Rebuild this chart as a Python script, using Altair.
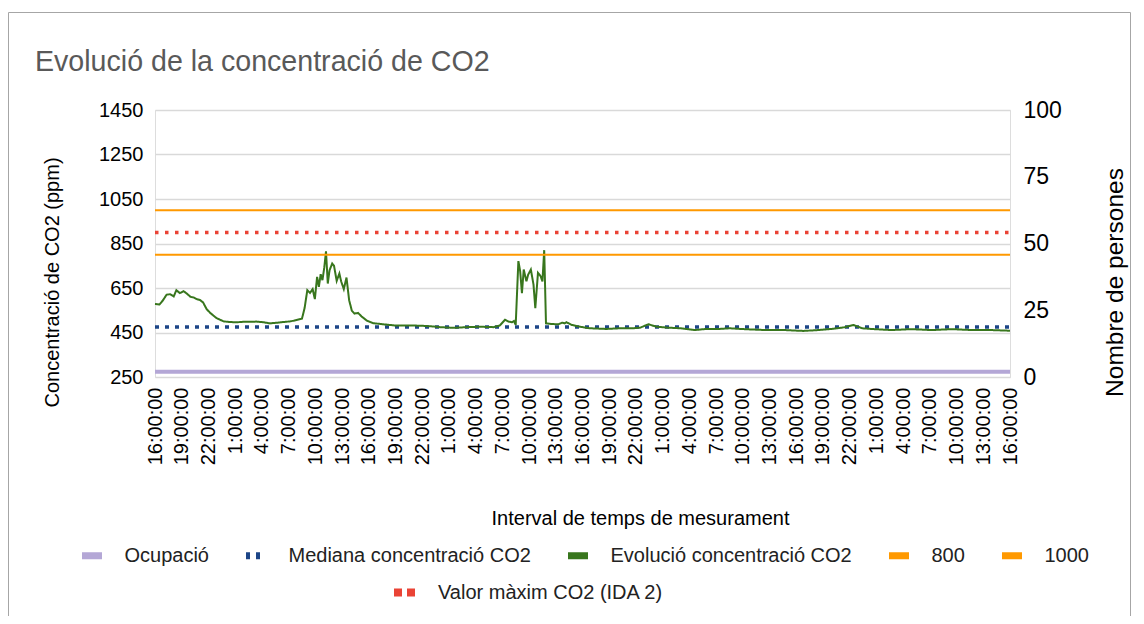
import altair as alt
import pandas as pd

# ---------------- data ----------------
hours = [0.0, 0.5, 0.9, 1.3, 1.7, 2.1, 2.4, 2.8, 3.2, 3.6, 4.0, 4.3, 4.7, 5.05, 5.4, 5.8, 6.2, 6.9, 7.7, 8.4,
         9.2, 9.9, 10.7, 11.4, 12.2, 12.9, 13.7, 14.4, 15.2, 15.9, 16.5, 16.8, 17.1, 17.4, 17.7, 17.95, 18.2, 18.4,
         18.6, 18.8, 19.0, 19.2, 19.4, 19.6, 19.9, 20.1, 20.4, 20.7, 20.9, 21.2, 21.5, 21.8, 22.1, 22.4, 22.8, 23.2,
         23.8, 24.5, 25.6, 27.1, 28.6, 30.1, 31.6, 32.0, 33.5, 35.0, 36.5, 38.0, 38.7, 39.3, 39.7, 40.1, 40.3, 40.5,
         40.8, 41.0, 41.2, 41.4, 41.7, 41.9, 42.2, 42.5, 42.7, 43.0, 43.3, 43.5, 43.7, 43.9, 44.5, 45.3, 45.7, 46.0,
         46.2, 46.8, 47.7, 48.8, 50.7, 52.2, 53.7, 54.5, 55.4, 56.3, 57.5, 59.0, 60.6, 61.9, 63.4, 64.5, 66.2, 68.5,
         70.7, 72.8, 74.5, 76.0, 77.5, 78.4, 79.4, 80.8, 82.7, 84.9, 87.2, 89.5, 91.7, 93.9, 96.0]
co2 = [578, 576, 595, 620, 622, 612, 640, 627, 636, 624, 610, 608, 600, 596, 585, 555, 538, 515, 500, 497,
       496, 498, 498, 499, 496, 491, 494, 497, 500, 506, 512, 560, 640, 628, 645, 600, 700, 655,
       712, 685, 740, 815, 670, 730, 760, 750, 682, 715, 680, 645, 697, 595, 548, 535, 538, 522,
       503, 492, 487, 481, 482, 480, 476, 474, 471, 474, 476, 474, 481, 507, 499, 496, 502, 484,
       771, 726, 627, 733, 680, 710, 733, 665, 559, 718, 703, 680, 820, 491, 488, 487, 494, 491,
       496, 484, 476, 469, 466, 469, 469, 472, 487, 476, 472, 469, 461, 466, 466, 469, 465, 461,
       461, 457, 461, 466, 474, 484, 469, 465, 461, 465, 461, 465, 461, 461, 458]

occ_hours = [0, 96]
occ_vals = [2, 2]

ref_hours = [0, 96]
median_co2 = 475
limit_800 = 800
limit_1000 = 1000
ida2_max = 900

y_ticks = [250, 450, 650, 850, 1050, 1250, 1450]
y2_ticks = [0, 25, 50, 75, 100]
x_ticks = [0, 3, 6, 9, 12, 15, 18, 21, 24, 27, 30, 33, 36, 39, 42, 45, 48, 51, 54, 57, 60, 63, 66, 69, 72,
           75, 78, 81, 84, 87, 90, 93, 96]
x_labels = ["16:00:00", "19:00:00", "22:00:00", "1:00:00", "4:00:00", "7:00:00", "10:00:00", "13:00:00",
            "16:00:00", "19:00:00", "22:00:00", "1:00:00", "4:00:00", "7:00:00", "10:00:00", "13:00:00",
            "16:00:00", "19:00:00", "22:00:00", "1:00:00", "4:00:00", "7:00:00", "10:00:00", "13:00:00",
            "16:00:00", "19:00:00", "22:00:00", "1:00:00", "4:00:00", "7:00:00", "10:00:00", "13:00:00",
            "16:00:00"]

S_OCC = "Ocupació"
S_MED = "Mediana concentració CO2"
S_CO2 = "Evolució concentració CO2"
S_800 = "800"
S_1000 = "1000"
S_IDA = "Valor màxim CO2 (IDA 2)"

series_domain = [S_OCC, S_MED, S_CO2, S_800, S_1000]
series_colors = ["#b4a7d6", "#1c4587", "#38761d", "#ff9900", "#ff9900"]
series_dash = [[1, 0], [4, 6], [1, 0], [1, 0], [1, 0]]

FONT = "Liberation Sans"

df_co2 = pd.DataFrame({"h": hours, "v": co2, "serie": S_CO2})
df_lim = pd.DataFrame({
    "h": ref_hours + ref_hours,
    "v": [limit_800] * 2 + [limit_1000] * 2,
    "serie": [S_800] * 2 + [S_1000] * 2,
})
df_main = pd.concat([df_co2, df_lim], ignore_index=True)
df_med = pd.DataFrame({"h": ref_hours, "v": [median_co2] * 2, "serie": S_MED})
df_ida = pd.DataFrame({"h": ref_hours, "v": [ida2_max] * 2, "serie": S_IDA})
df_occ = pd.DataFrame({"h": occ_hours, "v": occ_vals, "serie": S_OCC})

label_js = "[" + ",".join("'" + s + "'" for s in x_labels) + "][round(datum.value/3)]"

legend_main = alt.Legend(
    title=None, orient="none", legendX=-76.5, legendY=432, direction="horizontal", columns=5,
    symbolType="stroke", symbolStrokeWidth=7, symbolSize=400, labelFontSize=20, labelFont=FONT,
    labelColor="#222222", labelLimit=400, labelOffset=19, columnPadding=22, padding=0,
)
legend_ida = alt.Legend(
    title=None, orient="none", legendX=235, legendY=468, direction="horizontal",
    symbolType="stroke", symbolStrokeWidth=8, symbolSize=441, symbolStrokeColor="#ea4335",
    symbolDash=[8, 5], labelFontSize=20, labelFont=FONT, labelColor="#222222", labelLimit=400,
    labelOffset=19, padding=0,
)

x_enc = alt.X(
    "h:Q",
    scale=alt.Scale(domain=[0, 96], nice=False, zero=False),
    axis=alt.Axis(
        values=x_ticks, labelExpr=label_js, labelAngle=270, labelFontSize=20, labelFont=FONT,
        labelColor="#000000", labelPadding=10, labelOverlap=False, labelBound=False,
        grid=False, domain=False, ticks=False, tickSize=0,
        title="Interval de temps de mesurament", titleFontSize=20, titleFont=FONT,
        titleFontWeight="normal", titleColor="#000000", titleX=485, titleY=147,
        titleBaseline="alphabetic", titleAlign="center",
    ),
)
y_scale = alt.Scale(domain=[250, 1450], nice=False, zero=False)
y_enc = alt.Y(
    "v:Q",
    scale=y_scale,
    axis=alt.Axis(
        values=y_ticks, format="d", grid=True, gridColor="#d9d9d9", gridWidth=1.5, domain=False,
        ticks=False, tickSize=0, labelFontSize=20, labelFont=FONT, labelColor="#000000", labelPadding=12,
        title="Concentració de CO2 (ppm)", titleFontSize=20, titleFont=FONT, titleFontWeight="normal",
        titleColor="#000000", titleAngle=270, titleX=-97, titleY=172, titleBaseline="alphabetic",
        titleAlign="center",
    ),
)
color_enc = alt.Color("serie:N", scale=alt.Scale(domain=series_domain, range=series_colors),
                      legend=legend_main)
dash_enc = alt.StrokeDash("serie:N", scale=alt.Scale(domain=series_domain, range=series_dash),
                          legend=legend_main)

frame = alt.Chart(pd.DataFrame({"k": [0]})).mark_rect(
    fill="transparent", stroke="#a6a6a6", strokeWidth=1
).encode(
    x=alt.value(-146.5), x2=alt.value(975.5), y=alt.value(-97.5), y2=alt.value(600)
)

med = alt.Chart(df_med).mark_line(strokeWidth=3.5).encode(
    x=x_enc, y=y_enc, color=color_enc, strokeDash=dash_enc
)
main = alt.Chart(df_main).mark_line(strokeWidth=2).encode(
    x=x_enc, y=y_enc, color=color_enc, strokeDash=dash_enc
)
ida = alt.Chart(df_ida).mark_line(strokeWidth=3.5, color="#ea4335", strokeDash=[3.5, 6.5]).encode(
    x=x_enc, y=alt.Y("v:Q", scale=y_scale),
    opacity=alt.Opacity("serie:O", scale=alt.Scale(domain=[S_IDA], range=[1]), legend=legend_ida),
)

left = alt.layer(frame, med, main, ida)

occ = alt.Chart(df_occ).mark_line(strokeWidth=4).encode(
    x=x_enc,
    y=alt.Y(
        "v:Q",
        scale=alt.Scale(domain=[0, 100], nice=False, zero=False),
        axis=alt.Axis(
            orient="right", values=y2_ticks, grid=False, domain=False, ticks=False, tickSize=0,
            labelFontSize=23, labelFont=FONT, labelColor="#000000", labelPadding=13,
            title="Nombre de persones", titleFontSize=24.5, titleFont=FONT, titleFontWeight="normal",
            titleColor="#000000", titleAngle=270, titleX=112, titleY=172, titleBaseline="alphabetic",
            titleAlign="center",
        ),
    ),
    color=color_enc,
    strokeDash=dash_enc,
)

chart = alt.layer(left, occ).resolve_scale(y="independent").properties(
    width=855,
    height=267,
    padding={"left": 147, "top": 102, "right": 125, "bottom": 239},
    autosize=alt.AutoSizeParams(type="none"),
    title=alt.TitleParams(
        text="Evolució de la concentració de CO2", anchor="start", frame="group", dx=-120, dy=88,
        offset=0, fontSize=28.6, font=FONT, fontWeight="normal", color="#595959", baseline="alphabetic",
    ),
).configure_view(strokeWidth=0).configure(font=FONT, background="white")

chart.save("out.html", embed_options={"renderer": "svg", "actions": False})
